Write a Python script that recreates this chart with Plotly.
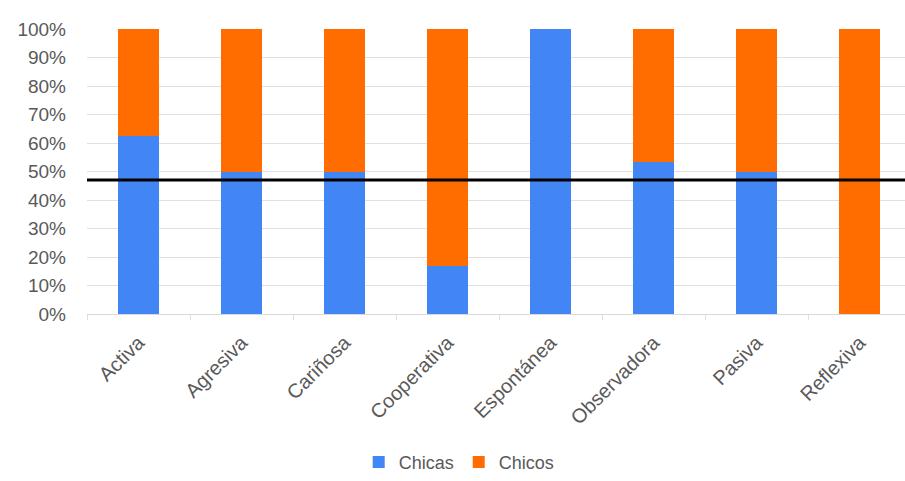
import plotly.graph_objects as go

categories = ["Activa", "Agresiva", "Cariñosa", "Cooperativa", "Espontánea", "Observadora", "Pasiva", "Reflexiva"]
chicas = [62.5, 50.0, 50.0, 16.7, 100.0, 53.3, 50.0, 0.0]
chicos = [37.5, 50.0, 50.0, 83.3, 0.0, 46.7, 50.0, 100.0]
reference_line = 47.0
y_ticks = [0, 10, 20, 30, 40, 50, 60, 70, 80, 90, 100]
y_tick_labels = [f"{v}%" for v in y_ticks]

fig = go.Figure()
fig.add_trace(go.Bar(x=categories, y=chicas, name="Chicas", marker_color="#4285F4", marker_line_width=0))
fig.add_trace(go.Bar(x=categories, y=chicos, name="Chicos", marker_color="#FF6D01", marker_line_width=0))

fig.add_shape(type="line", xref="paper", x0=0, x1=1, yref="y", y0=reference_line, y1=reference_line,
              line=dict(color="black", width=3))

fig.update_layout(
    barmode="stack",
    bargap=0.6,
    width=905, height=481,
    margin=dict(l=87, r=0, t=29, b=167),
    paper_bgcolor="white", plot_bgcolor="white",
    font=dict(family="Liberation Sans, Arial, sans-serif", color="#595959"),
    showlegend=True,
    legend=dict(orientation="h", x=0.455, xanchor="center", y=-0.52, yanchor="middle",
                font=dict(size=18, color="#595959"), itemwidth=30, traceorder="normal"),
    xaxis=dict(range=[-0.5, 7.44], tickangle=-45, tickfont=dict(size=20, color="#595959"),
               showline=True, linecolor="#d9d9d9", linewidth=1, ticks="outside", tickcolor="#e0e0e0",
               ticklen=5, showgrid=False, tickson="boundaries", ticklabelstandoff=8),
    yaxis=dict(range=[0, 100], tickvals=y_ticks, ticktext=y_tick_labels,
               tickfont=dict(size=19, color="#595959"), gridcolor="#e0e0e0", gridwidth=1,
               zeroline=False, showline=False, ticks="", ticklabelstandoff=20),
)

fig.write_html("out.html")
